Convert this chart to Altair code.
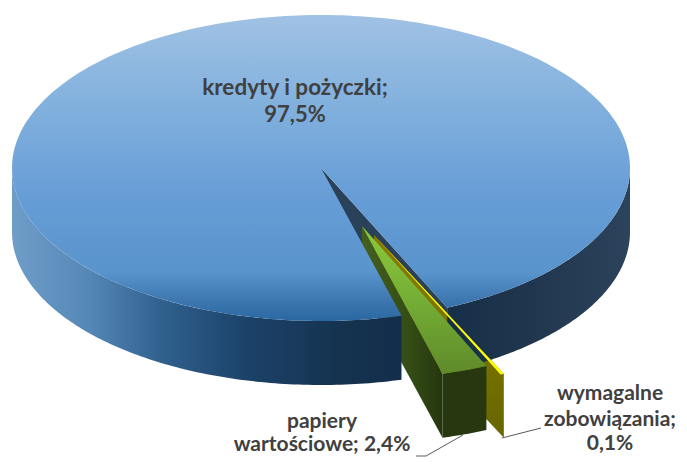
import math
import altair as alt

# ---- values ----
categories = ["kredyty i pożyczki", "papiery wartościowe", "wymagalne zobowiązania"]
shares = [97.5, 2.4, 0.1]

# ---- pie projection (pixels in the page, margin removed below) ----
M = 8
CX, CY, RX, RY = 321 - M, 168 - M, 309, 153
DEPTH = 64
GAP_START = 15.1           # param angle where the first slice ends
EXPLODE_GREEN = (41, 58)
EXPLODE_YELLOW = (53, 67)


def pt(t, c=(0, 0), dy=0):
    r = math.radians(t)
    return [CX + c[0] + RX * math.sin(r), CY + c[1] + RY * math.cos(r) + dy]


def arc(t0, t1, c=(0, 0), dy=0, n=120):
    return [pt(t0 + (t1 - t0) * i / n, c, dy) for i in range(n + 1)]


def centre(c=(0, 0), dy=0):
    return [CX + c[0], CY + c[1] + dy]


def deg(p):
    return p * 3.6


def grad_h(stops):
    return alt.Gradient(gradient="linear", x1=0, x2=1, y1=0, y2=0,
                        stops=[alt.GradientStop(offset=o, color=c) for o, c in stops])


def grad_v(stops):
    return alt.Gradient(gradient="linear", x1=0, x2=0, y1=0, y2=1,
                        stops=[alt.GradientStop(offset=o, color=c) for o, c in stops])


def poly(points, fill):
    ring = points + [points[0]]
    feature = {"type": "Feature", "properties": {},
               "geometry": {"type": "Polygon", "coordinates": [ring]}}
    return (alt.Chart(alt.Data(values=[feature]))
            .mark_geoshape(fill=fill, strokeWidth=0)
            .project(type="identity", scale=1, translate=[0, 0]))


def leader(points):
    feature = {"type": "Feature", "properties": {},
               "geometry": {"type": "LineString", "coordinates": points}}
    return (alt.Chart(alt.Data(values=[feature]))
            .mark_geoshape(filled=False, stroke="#595959", strokeWidth=1)
            .project(type="identity", scale=1, translate=[0, 0]))


def text(s, x, y, size=21):
    return (alt.Chart(alt.Data(values=[{"t": s}]))
            .mark_text(font="Lato", fontWeight="bold", fontSize=size, color="#404040",
                       align="center", baseline="middle")
            .encode(text="t:N", x=alt.value(x - M), y=alt.value(y - M)))


g0 = GAP_START
g1 = g0 + deg(shares[1])
y1 = g1 + 1.1
y0 = y1 - deg(shares[2]) * 1.8
main_start = g0 + deg(shares[1] + shares[2])

layers = []

# cut face of the main slice seen through the notch
layers.append(poly([centre(), pt(main_start), pt(main_start, dy=DEPTH), centre(dy=DEPTH)], "#2a415a"))

# yellow slice: cut face
layers.append(poly([centre(EXPLODE_YELLOW), pt(y1, EXPLODE_YELLOW),
                    pt(y1, EXPLODE_YELLOW, DEPTH), centre(EXPLODE_YELLOW, DEPTH)],
                   grad_v([(0, "#8a7a00"), (0.5, "#7a7400"), (1, "#666600")])))

# green slice: left cut face and outer wall
layers.append(poly([centre(EXPLODE_GREEN), pt(g0, EXPLODE_GREEN),
                    pt(g0, EXPLODE_GREEN, DEPTH), centre(EXPLODE_GREEN, DEPTH)],
                   grad_h([(0, "#44601f"), (0.6, "#344c16"), (1, "#26360f")])))
layers.append(poly(arc(g0, g1, EXPLODE_GREEN, n=12) + arc(g1, g0, EXPLODE_GREEN, DEPTH, n=12), "#27370f"))

# main slice: outer wall, left and right of the notch
layers.append(poly(arc(-90, g0) + arc(g0, -90, dy=DEPTH),
                   grad_h([(0, "#6f9dc8"), (0.2, "#5587b6"), (0.38, "#30618f"), (0.6, "#1c4269"),
                           (0.85, "#15324f"), (1, "#132e4c")])))
layers.append(poly(arc(main_start, 90) + arc(90, main_start, dy=DEPTH),
                   grad_h([(0, "#172e48"), (0.5, "#21374f"), (1, "#2c435c")])))

# main slice: top face
layers.append(poly([centre()] + arc(main_start, 360 + g0, n=300),
                   grad_v([(0, "#a0c2e4"), (0.3, "#81b0dd"), (0.6, "#669dd6"), (0.84, "#5a94cc"),
                           (0.93, "#3f78b0"), (1, "#2a67a1")])))

# green slice: top face
layers.append(poly([centre(EXPLODE_GREEN)] + arc(g0, g1, EXPLODE_GREEN, n=12),
                   grad_v([(0, "#8ccb3c"), (0.5, "#74ae35"), (1, "#5f8a2a")])))

# yellow slice: top face
layers.append(poly([centre(EXPLODE_YELLOW)] + arc(y0, y1, EXPLODE_YELLOW, n=4), "#ffff00"))

# leader lines
layers.append(leader([[463 - M, 435 - M], [426 - M, 456 - M], [416 - M, 456 - M]]))
layers.append(leader([[502 - M, 438 - M], [541 - M, 428 - M]]))

# labels
def pct(v):
    return f"{v:.1f}%".replace(".", ",")

layers += [
    text(categories[0] + ";", 295, 88, 22.5),
    text(pct(shares[0]), 295, 115, 22),
    text("papiery", 322, 422),
    text("wartościowe; " + pct(shares[1]), 322, 445),
    text("wymagalne", 610, 394),
    text("zobowiązania;", 610, 420),
    text(pct(shares[2]), 610, 444),
]

chart = (alt.layer(*layers)
         .properties(width=671, height=449, padding=0, autosize=alt.AutoSizeParams(type="none"),
                     background="white")
         .configure_view(stroke=None))

chart.save("out.html", embed_options={"renderer": "svg", "actions": False})
